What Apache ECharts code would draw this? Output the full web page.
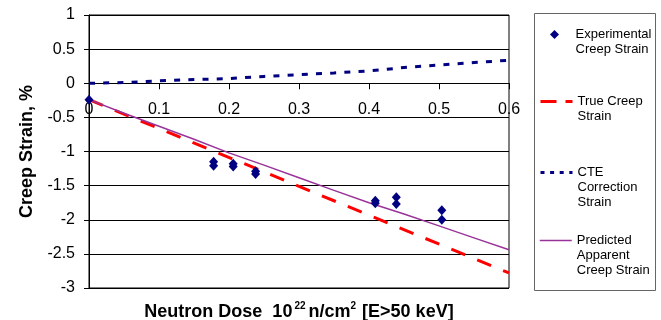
<!DOCTYPE html>
<html>
<head>
<meta charset="utf-8">
<script src="https://cdn.jsdelivr.net/npm/echarts@6/dist/echarts.min.js"></script>
<style>
  html, body { margin: 0; padding: 0; background: #fff; }
  #chart { width: 661px; height: 320px; }
</style>
</head>
<body>
<div id="chart"></div>
<script>
// measured points
const expDose = [0, 0.178, 0.178, 0.206, 0.206, 0.238, 0.238, 0.409, 0.409, 0.439, 0.439, 0.504, 0.504]
const expStrain = [-0.24, -1.15, -1.21, -1.18, -1.22, -1.29, -1.33, -1.72, -1.76, -1.67, -1.77, -1.86, -2.0]

// true creep strain (straight line)
const trueDose = [0, 0.6]
const trueStrain = [-0.24, -2.78]

// CTE correction and predicted apparent strain
const curveDose = [0, 0.05, 0.1, 0.15, 0.2, 0.25, 0.3, 0.35, 0.4, 0.45, 0.5, 0.55, 0.6]
const cteStrain = [0, 0.01, 0.035, 0.054, 0.069, 0.1, 0.125, 0.151, 0.18, 0.23, 0.266, 0.303, 0.337]
const predStrain = [-0.24, -0.44, -0.63, -0.82, -1.02, -1.2, -1.385, -1.57, -1.75, -1.915, -2.09, -2.265, -2.44]

const yTicks = { min: -3, max: 1, step: 0.5 }
const xTicks = { min: 0, max: 0.6, step: 0.1 }

const names = ['Experimental Creep Strain', 'True Creep Strain', 'CTE Correction Strain', 'Predicted Apparent Creep Strain']
const legendLines = {
  'Experimental Creep Strain': ['Experimental', 'Creep Strain'],
  'True Creep Strain': ['True Creep', 'Strain'],
  'CTE Correction Strain': ['CTE', 'Correction', 'Strain'],
  'Predicted Apparent Creep Strain': ['Predicted', 'Apparent', 'Creep Strain']
}
// pad with blank lines on top so the first line sits level with the icon
const legendFormat = n => {
  const lines = legendLines[n]
  const pad = new Array(lines.length - 1).fill('\u00a0')
  return pad.concat(lines).join('\n')
}

const FONT = "'Liberation Sans', Arial, sans-serif"
const pairs = (xs, ys) => xs.map((x, i) => [x, ys[i]])

// plot box in pixels
const GRID = { left: 89, right: 152, top: 15, bottom: 32 }
const plotH = 320 - GRID.top - GRID.bottom
// lift the x axis up to the zero line
const xAxisOffset = -plotH * (0 - yTicks.min) / (yTicks.max - yTicks.min)

// one legend per entry so each can sit where it is in the picture
const legendBase = (name, left, top, itemHeight, extra) => Object.assign({
  data: [name],
  left: left,
  top: top,
  orient: 'vertical',
  padding: 0,
  itemWidth: 32,
  itemHeight: itemHeight,
  selectedMode: false,
  formatter: legendFormat,
  textStyle: {
    fontFamily: FONT,
    fontSize: 13,
    lineHeight: 15,
    color: '#000'
  }
}, extra)

const chart = echarts.init(document.getElementById('chart'))

chart.setOption({
  animation: false,
  backgroundColor: '#fff',
  grid: Object.assign({
    outerBoundsMode: 'none',
    containLabel: false,
    show: true, borderColor: '#000', borderWidth: 1
  }, GRID),
  legend: [
    legendBase(names[0], 550, 12, 9, {
      icon: 'path://M5,0L10,5L5,10L0,5Z',
      symbolKeepAspect: true
    }),
    legendBase(names[1], 539, 79, 14, {
      itemStyle: { opacity: 0 },
      lineStyle: { width: 3, type: [16, 9] }
    }),
    legendBase(names[2], 539, 135, 14, {
      itemStyle: { opacity: 0 },
      lineStyle: { width: 3, type: [4, 5.6] }
    }),
    legendBase(names[3], 539, 203, 14, {
      itemStyle: { opacity: 0 },
      lineStyle: { width: 1.5 }
    })
  ],
  graphic: [{
    type: 'rect',
    shape: { x: 534.5, y: 13.5, width: 121, height: 277 },
    style: { fill: 'none', stroke: '#666', lineWidth: 1 },
    silent: true
  }],
  xAxis: {
    type: 'value',
    min: xTicks.min,
    max: xTicks.max,
    interval: xTicks.step,
    offset: xAxisOffset,
    name: '{t|Neutron Dose  10}{s|22}{t|n/cm}{c|2}{t| [E>50 keV]}',
    nameLocation: 'middle',
    nameGap: 218,
    nameTextStyle: {
      rich: {
        t: { fontFamily: FONT, fontSize: 18, fontWeight: 'bold', color: '#000', lineHeight: 22 },
        s: { fontFamily: FONT, fontSize: 10, fontWeight: 'bold', color: '#000', verticalAlign: 'top', padding: [0, 3, 0, 2] },
        c: { fontFamily: FONT, fontSize: 10, fontWeight: 'bold', color: '#000', verticalAlign: 'top', padding: [0, 1, 0, 0] }
      }
    },
    axisLine: { onZero: false, lineStyle: { color: '#000', width: 1 } },
    axisTick: { show: true, length: 6, lineStyle: { color: '#000' } },
    axisLabel: { fontFamily: FONT, fontSize: 16, color: '#000', margin: 18 },
    splitLine: { show: false }
  },
  yAxis: {
    type: 'value',
    min: yTicks.min,
    max: yTicks.max,
    interval: yTicks.step,
    name: 'Creep Strain, %',
    nameLocation: 'middle',
    nameGap: 53,
    nameTextStyle: { fontFamily: FONT, fontSize: 18, fontWeight: 'bold', color: '#000' },
    axisLine: { show: true, onZero: false, lineStyle: { color: '#000', width: 1 } },
    axisTick: { show: true, length: 5, lineStyle: { color: '#000' } },
    axisLabel: { fontFamily: FONT, fontSize: 16, color: '#000', margin: 14 },
    splitLine: { show: true, lineStyle: { color: '#000', width: 1 } }
  },
  series: [
    {
      name: names[1],
      type: 'line',
      data: pairs(trueDose, trueStrain),
      symbol: 'none',
      lineStyle: { color: '#ff0000', width: 3, type: [15, 13] },
      itemStyle: { color: '#ff0000' },
      z: 3
    },
    {
      name: names[2],
      type: 'line',
      data: pairs(curveDose, cteStrain),
      symbol: 'none',
      lineStyle: { color: '#000080', width: 3, type: [6, 8.2] },
      itemStyle: { color: '#000080' },
      z: 3
    },
    {
      name: names[3],
      type: 'line',
      data: pairs(curveDose, predStrain),
      symbol: 'none',
      lineStyle: { color: '#993399', width: 1.5 },
      itemStyle: { color: '#993399' },
      z: 4
    },
    {
      name: names[0],
      type: 'scatter',
      data: pairs(expDose, expStrain),
      symbol: 'diamond',
      symbolSize: [9, 10],
      itemStyle: { color: '#000080', opacity: 1 },
      z: 5
    }
  ]
})
</script>
</body>
</html>
